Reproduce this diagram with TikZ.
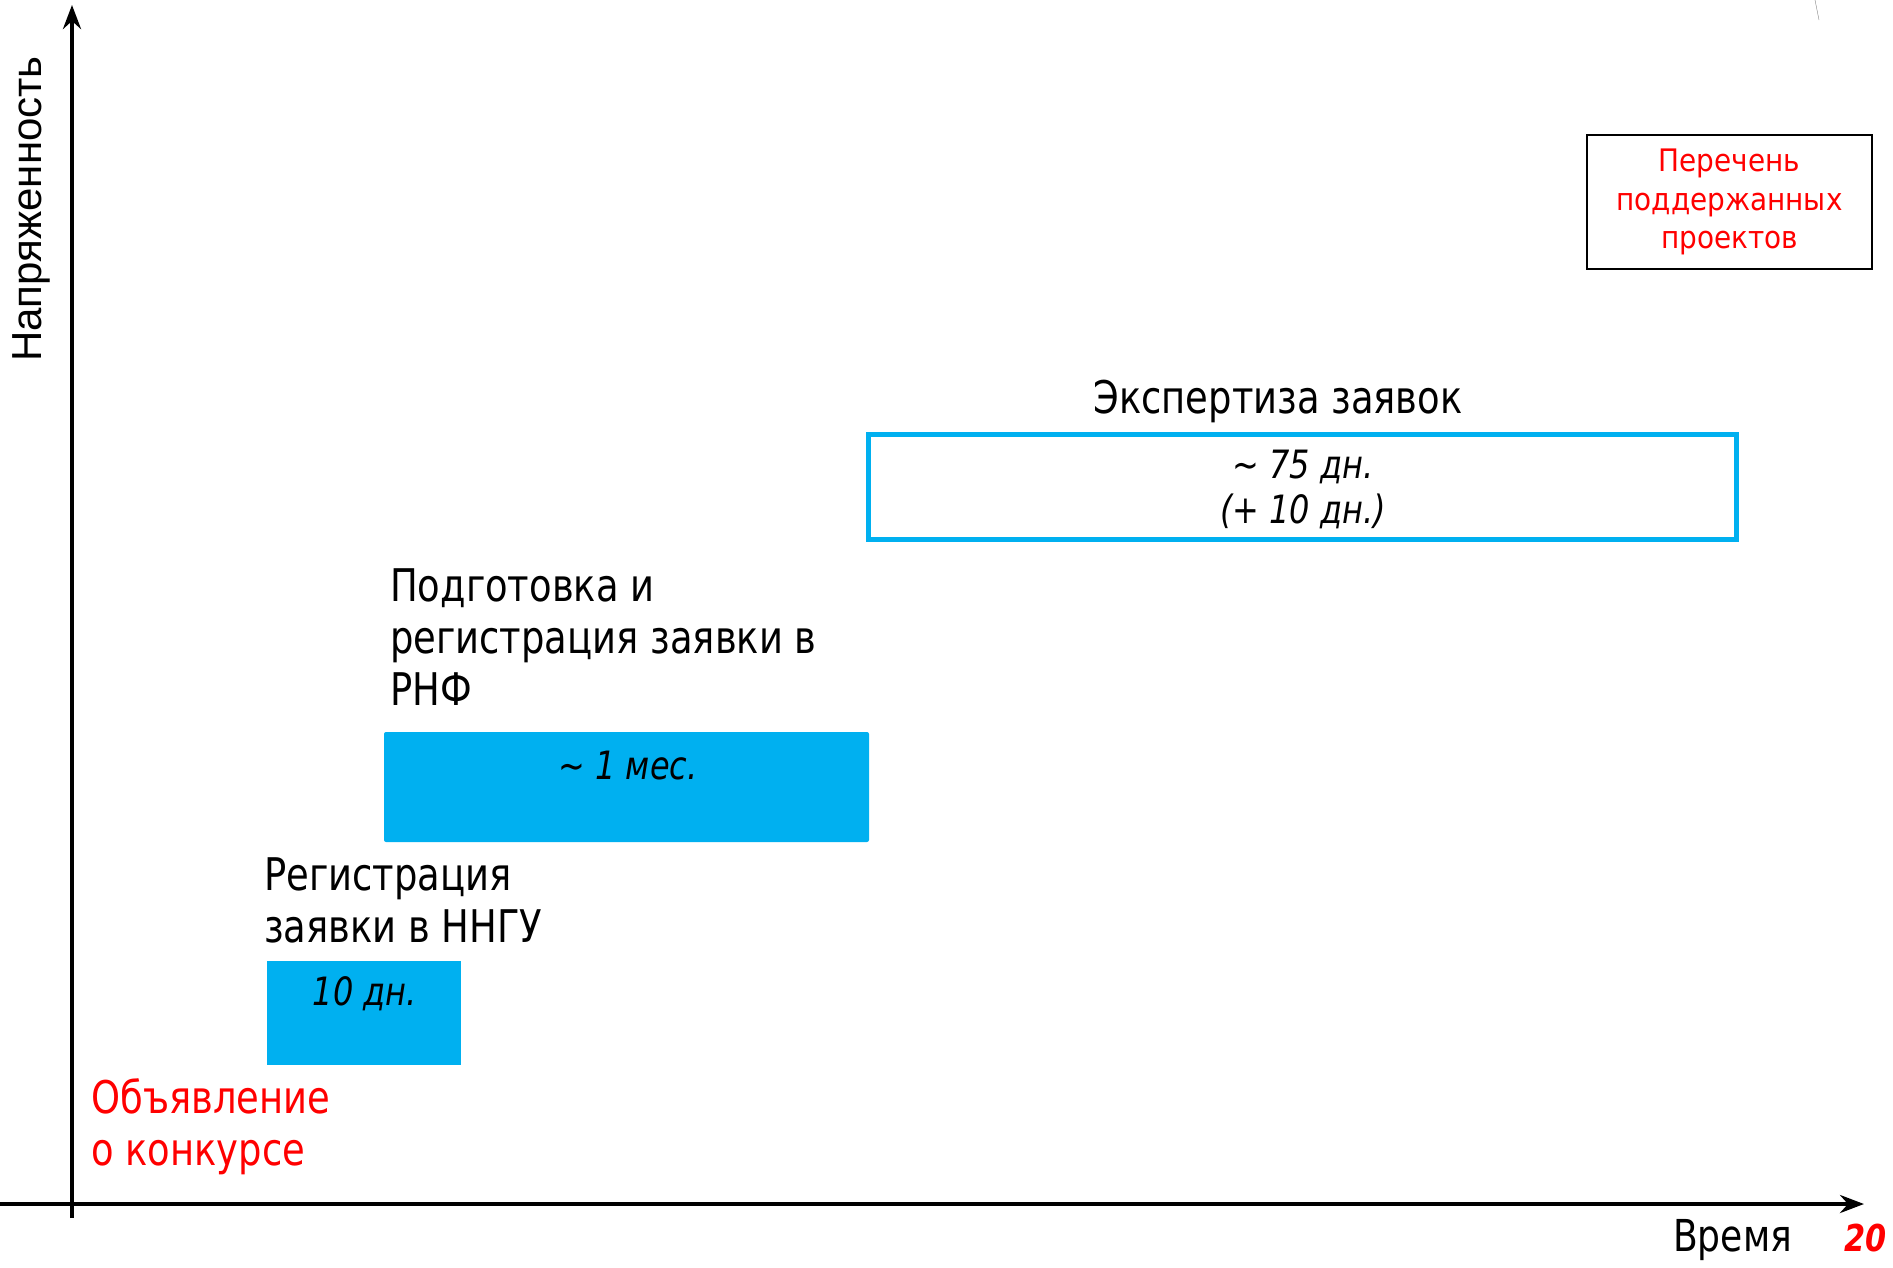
\documentclass[tikz,border=0pt]{standalone}
\usepackage{fontspec}
\setmainfont{DejaVu Sans}[FakeStretch=0.82]
\newfontfamily\axisfont{Liberation Sans}
\newfontfamily\notefont{DejaVu Sans}[FakeStretch=0.9]
\usepackage{tikz}
\usetikzlibrary{arrows.meta}
\definecolor{barcyan}{HTML}{00B0F0}
\definecolor{notered}{HTML}{FF0000}

\begin{document}
\begin{tikzpicture}[x=1pt, y=-1pt,
        axis/.style={line width=4pt, -{Stealth[length=24pt, width=18pt, inset=8pt]}},
        heading/.style={anchor=base west, align=left, inner sep=0pt, font=\fontsize{45}{52}\selectfont},
        period/.style={anchor=base, align=center, inner sep=0pt, font=\fontsize{39}{45}\selectfont\itshape}]
        \useasboundingbox (0,0) rectangle (1893,1267);
        % axes
        \coordinate (ybot) at (72,1218);
        \coordinate (ytop) at (72,5);
        \coordinate (xleft) at (0,1204);
        \coordinate (xright) at (1864,1204);
        \draw[axis] (ybot) -- (ytop);
        \draw[axis] (xleft) -- (xright);
        \node[rotate=90, inner sep=0pt, font=\axisfont\fontsize{42}{48}\selectfont] (tension) at (31,209) {Напряженность};
        \node[anchor=base west, inner sep=0pt, font=\fontsize{44}{52}\selectfont] (time) at (1673,1251) {Время};
        \node[anchor=base west, inner sep=0pt, text=notered, font=\fontsize{37}{44}\selectfont\bfseries\itshape] (pagenum) at (1844,1251) {20};
        % stages (base = last line)
        \node[heading, text=notered] (announce) at (91,1165) {Объявление\\о конкурсе};
        \fill[barcyan] (267,961) rectangle (461,1065);
        \node[period] (nngudays) at (365,1005) {10 дн.};
        \node[heading] (nngu) at (264,942) {Регистрация\\заявки в ННГУ};
        \fill[barcyan, rounded corners=2pt] (384,732) rectangle (869,842);
        \node[period] (rnfmonth) at (628,779) {\char"223C{} 1 мес.};
        \node[heading] (rnf) at (390,705) {Подготовка и\\регистрация заявки в\\РНФ};
        \draw[barcyan, line width=5pt] (868,434.5) rectangle (1736,539.5);
        \node[period] (reviewdays) at (1303,523) {\char"223C{} 75 дн.\\(+ 10 дн.)};
        \node[anchor=base, inner sep=0pt, font=\fontsize{45}{52}\selectfont] (review) at (1278,413) {Экспертиза заявок};
        % result
        \node[draw, line width=2pt, minimum width=285pt, minimum height=134pt, inner sep=0pt,
            align=center, text=notered, font=\notefont\fontsize{31}{38.5}\selectfont] (supported) at (1729.5,202) {Перечень\\поддержанных\\проектов};
        \draw[gray, thin] (1815,0) -- (1819,20);
\end{tikzpicture}
\end{document}
